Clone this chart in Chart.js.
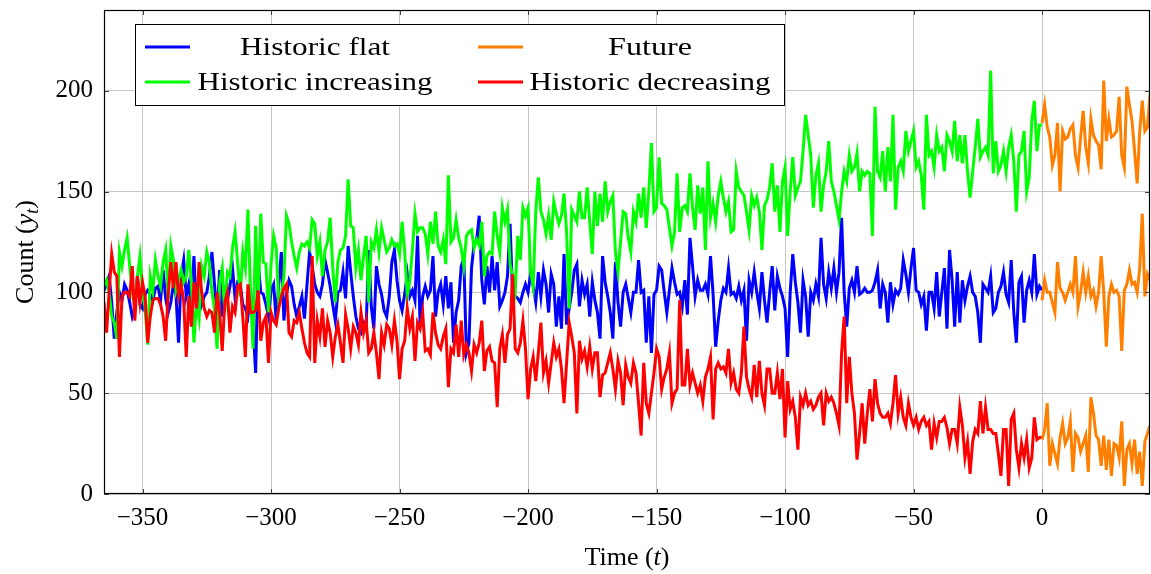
<!DOCTYPE html>
<html>
<head>
<meta charset="utf-8">
<script src="https://cdn.jsdelivr.net/npm/chart.js@4.4.1/dist/chart.umd.min.js"></script>
<style>
  html, body { margin: 0; padding: 0; background: #fff; }
  #wrap { width: 1151px; height: 574px; }
</style>
</head>
<body>
<div id="wrap"><canvas id="chart" width="1151" height="574"></canvas></div>
<script>
// historic runs from t = -365 to t = 0, future from t = 0 to t = 42
const HIST_START = -365;
const FUTURE_START = 0;

const historicFlat = [
  101,104,108,95,77,90,100,96,104,101, 95,88,92,108,94,92,99,101,99,96,
  102,103,96,111,97,90,95,104,99,75, 108,116,98,104,93,118,89,111,94,98, 100,
  108,120,104,88,111,88,100,96,103,112, 97,105,104,94,92,88,102,84,60,115,
  100,99,94,88,101,104,86,104,120,86, 99,106,103,94,88,93,98,87,104,120, 113,
  104,100,98,104,116,110,103,94,86,100, 101,110,97,123,110,98,88,82,80,85,
  83,121,93,82,113,104,99,91,88,98, 115,121,106,96,91,99,109,98,101,96, 128,84,
  98,103,98,101,118,88,100,104,94,108, 92,105,75,90,96,113,117,70,75,112,
  124,126,138,106,94,113,100,118,101,115, 93,96,100,108,134,98,98,97,95,100,
  104,100,109,103,95,110,98,111,104,90, 109,104,83,98,82,119,84,92,100,111,
  114,93,106,99,104,88,105,96,90,77, 118,105,98,90,77,115,95,83,100,104, 97,
  90,100,100,116,100,101,75,98,70,99, 101,113,111,100,90,101,112,105,99,100,
  93,106,89,127,113,98,106,101,101,104, 99,118,99,73,86,96,102,100,112,99,
  100,97,103,96,101,76,106,100,110,100, 92,110,96,85,100,113,91,108,102,98,
  92,68,100,119,105,95,80,106,98,78, 100,96,104,98,127,104,97,110,102,112, 100,
  110,137,100,83,102,106,100,113,99,100, 102,100,100,101,105,111,92,104,100,85,
  105,94,101,99,102,116,109,100,112,122, 101,100,94,98,81,100,100,92,110,88,
  100,112,82,121,106,83,110,85,106,96, 103,108,100,98,90,75,104,102,100,108,
  90,92,100,103,110,99,95,116,90,75, 105,108,85,101,106,100,119,99,103,101
];

const historicIncreasing = [
  103,106,100,88,85,77,120,113,121,127, 113,101,93,108,118,101,92,74,108,101,
  116,108,103,115,121,97,123,116,101,106, 111,105,108,121,105,75,95,87,113,108, 120,
  115,100,92,72,105,112,90,110,108,122, 130,115,98,120,112,141,100,72,133,95,
  139,115,114,90,114,128,122,95,98,108, 138,134,125,118,112,120,124,123,125,122, 136,
  134,118,125,108,121,125,137,112,95,115, 121,122,128,156,133,132,112,121,106,118,
  128,95,125,122,131,120,132,126,120,122, 126,123,124,119,135,120,98,106,121,139, 130,132,
  132,129,119,135,124,140,123,120,126,114, 158,125,127,136,127,122,113,128,130,131,
  122,126,123,135,108,118,120,119,140,128, 120,142,135,141,114,108,101,128,116,142,
  138,142,110,103,140,157,140,136,129,138, 126,145,139,134,138,149,130,92,141,138,
  135,150,137,137,152,135,119,150,133,149, 135,155,140,145,148,120,110,125,140,139, 127,
  120,140,135,149,137,152,132,150,174,140, 142,167,144,143,141,132,123,130,159,130,
  142,143,140,159,142,131,153,139,152,121, 165,137,144,135,148,155,147,140,145,130,
  131,160,152,150,148,140,131,148,143,147, 140,121,143,146,152,164,140,153,130,155,
  162,128,150,167,148,152,155,170,188,178, 168,142,158,164,140,153,160,175,155,150, 143,
  136,150,160,155,168,160,162,169,150,160, 158,160,159,128,192,160,157,170,150,172,
  155,188,141,162,165,160,180,170,175,180, 162,165,158,141,188,168,170,162,178,170,
  172,160,178,175,170,185,165,178,164,178, 160,147,160,172,186,167,170,172,168,210,
  159,175,160,163,170,160,172,178,165,140, 168,170,180,150,157,185,195,170,183,183
];

const historicDecreasing = [
  95,80,100,119,110,108,68,98,100,100, 98,113,86,108,95,105,98,75,88,96,
  97,97,94,88,76,100,115,102,115,98, 104,96,68,98,83,105,92,115,100,92, 88,
  91,90,80,100,90,71,95,100,80,93, 90,103,104,88,68,104,90,90,91,101,
  76,85,88,65,90,86,84,92,98,102, 104,80,78,86,85,90,82,75,70,68, 118,
  65,86,78,92,73,86,80,68,78,84, 75,65,89,82,72,83,80,74,90,80,
  86,70,72,80,70,57,80,74,84,82, 74,86,76,57,72,76,92,82,88,66, 85,82,
  90,71,72,69,90,80,74,72,78,82, 53,72,70,84,68,86,69,74,70,61,
  74,70,75,86,61,71,73,66,65,43, 72,79,65,79,82,109,72,70,75,86,
  72,47,62,68,56,70,85,60,66,55, 65,75,68,72,62,45,65,85,78,70,
  40,76,67,71,63,73,62,70,70,48, 59,60,65,70,62,52,66,60,44,64, 58,
  55,65,60,45,29,65,45,40,50,60, 72,68,52,58,62,70,45,50,52,96,
  54,54,72,54,60,55,50,54,46,58, 62,68,37,62,65,62,63,60,72,55,
  60,52,50,60,83,58,52,48,64,48, 66,50,44,62,62,50,50,60,47,62,
  28,56,42,46,38,22,48,44,50,44, 46,42,44,48,50,34,50,46,48,45, 40,
  34,70,88,45,68,50,40,17,30,45, 25,40,52,36,57,45,40,38,38,40,
  35,45,59,40,48,38,34,45,38,34, 38,32,36,38,34,36,22,35,28,36,
  36,38,33,25,32,32,25,43,34,18, 26,10,26,32,30,46,30,43,32,32,
  30,30,20,9,32,32,4,37,40,22, 13,25,18,27,13,18,38,27,28,28
];

const futureFlat = [
  96,106,100,100,95,90,115,102,100,96, 100,104,100,118,93,100,110,100,108,98,
  101,93,100,118,100,73,98,104,100,101, 98,71,101,104,111,104,105,100,112,139,
  98,109,106
];
const futureIncreasing = [
  184,193,182,177,163,168,184,150,180,176, 177,181,183,168,162,177,190,172,164,186,
  178,175,173,161,205,175,186,177,178,180, 197,168,162,202,193,185,170,154,180,195,
  180,182,198
];
const futureDecreasing = [
  27,32,45,14,25,20,15,28,35,25, 28,36,11,30,28,21,25,29,11,48,
  40,29,27,14,29,12,27,9,25,24, 18,36,4,22,25,15,27,10,21,4,
  26,30,34
];

const xTicks = [-350, -300, -250, -200, -150, -100, -50, 0];
const yTicks = [0, 50, 100, 150, 200];

const FONT = '"Liberation Serif", "DejaVu Serif", serif';
const BLUE = '#0000ff', GREEN = '#00ff00', RED = '#ff0000', ORANGE = '#ff8000';

function toPoints(values, start) {
  return values.map((v, i) => ({ x: start + i, y: v }));
}

function line(label, values, start, color, order) {
  return {
    label: label,
    data: toPoints(values, start),
    borderColor: color,
    backgroundColor: color,
    borderWidth: 3,
    pointRadius: 0,
    tension: 0,
    fill: false,
    order: order
  };
}

function fmt(v) {
  return v < 0 ? '\u2212' + Math.abs(v) : String(v);
}

// frame, inner tick marks, legend box and axis titles
const decorations = {
  id: 'decorations',
  afterDatasetsDraw(chart) {
    const ctx = chart.ctx;
    const a = chart.chartArea;
    const xs = chart.scales.x, ys = chart.scales.y;
    ctx.save();

    ctx.strokeStyle = '#404040';
    ctx.lineWidth = 1;
    xTicks.forEach(t => {
      const px = Math.round(xs.getPixelForValue(t)) + 0.5;
      ctx.beginPath();
      ctx.moveTo(px, a.bottom); ctx.lineTo(px, a.bottom - 5);
      ctx.moveTo(px, a.top); ctx.lineTo(px, a.top + 5);
      ctx.stroke();
    });
    yTicks.forEach(t => {
      const py = Math.round(ys.getPixelForValue(t)) + 0.5;
      ctx.beginPath();
      ctx.moveTo(a.left, py); ctx.lineTo(a.left + 5, py);
      ctx.moveTo(a.right, py); ctx.lineTo(a.right - 5, py);
      ctx.stroke();
    });

    ctx.strokeStyle = '#000';
    ctx.lineWidth = 1.2;
    ctx.strokeRect(a.left + 0.5, a.top + 0.5, a.right - a.left - 1, a.bottom - a.top - 1);

    // legend
    const bx = 135, by = 24, bw = 649, bh = 81;
    ctx.fillStyle = '#fff';
    ctx.fillRect(bx, by, bw, bh);
    ctx.strokeStyle = '#000';
    ctx.lineWidth = 1;
    ctx.strokeRect(bx + 0.5, by + 0.5, bw, bh);

    const entries = [
      { text: 'Historic flat', color: BLUE, lx: 145, cx: 315, y: 47, w: 150 },
      { text: 'Future', color: ORANGE, lx: 478, cx: 650, y: 47, w: 84 },
      { text: 'Historic increasing', color: GREEN, lx: 145, cx: 315, y: 82, w: 235 },
      { text: 'Historic decreasing', color: RED, lx: 478, cx: 650, y: 82, w: 241 }
    ];
    ctx.font = '26px ' + FONT;
    ctx.textBaseline = 'middle';
    ctx.textAlign = 'center';
    entries.forEach(e => {
      ctx.strokeStyle = e.color;
      ctx.lineWidth = 3;
      ctx.beginPath();
      ctx.moveTo(e.lx, e.y); ctx.lineTo(e.lx + 45, e.y);
      ctx.stroke();
      const m = ctx.measureText(e.text).width;
      ctx.save();
      ctx.translate(e.cx, e.y + 1);
      ctx.scale(e.w / m, 1);
      ctx.fillStyle = '#000';
      ctx.fillText(e.text, 0, 0);
      ctx.restore();
    });

    // axis titles with italic symbols
    drawParts(ctx, [['Time (', false], ['t', true], [')', false]], (a.left + a.right) / 2, 557, 0);
    drawParts(ctx, [['Count (', false], ['y', true], ['t', true, true], [')', false]], 25, (a.top + a.bottom) / 2, -Math.PI / 2);

    ctx.restore();
  }
};

function drawParts(ctx, parts, cx, cy, rot) {
  const size = 26;
  const widths = parts.map(p => {
    ctx.font = (p[1] ? 'italic ' : '') + (p[2] ? 18 : size) + 'px ' + FONT;
    return ctx.measureText(p[0]).width;
  });
  const total = widths.reduce((s, w) => s + w, 0);
  ctx.save();
  ctx.translate(cx, cy);
  ctx.rotate(rot);
  ctx.fillStyle = '#000';
  ctx.textAlign = 'left';
  ctx.textBaseline = 'alphabetic';
  let x = -total / 2;
  parts.forEach((p, i) => {
    ctx.font = (p[1] ? 'italic ' : '') + (p[2] ? 18 : size) + 'px ' + FONT;
    ctx.fillText(p[0], x, p[2] ? 13 : 8);
    x += widths[i];
  });
  ctx.restore();
}

new Chart(document.getElementById('chart'), {
  type: 'line',
  data: {
    datasets: [
      line('Historic flat', historicFlat, HIST_START, BLUE, 6),
      line('Historic increasing', historicIncreasing, HIST_START, GREEN, 5),
      line('Historic decreasing', historicDecreasing, HIST_START, RED, 4),
      line('Future', futureFlat, FUTURE_START, ORANGE, 3),
      line('Future', futureIncreasing, FUTURE_START, ORANGE, 2),
      line('Future', futureDecreasing, FUTURE_START, ORANGE, 1)
    ]
  },
  options: {
    responsive: false,
    animation: false,
    devicePixelRatio: 1,
    layout: { padding: { top: 10, right: 1, left: 0, bottom: 0 } },
    plugins: {
      legend: { display: false },
      tooltip: { enabled: false }
    },
    scales: {
      x: {
        type: 'linear',
        min: -365,
        max: 42,
        afterBuildTicks: s => { s.ticks = xTicks.map(v => ({ value: v })); },
        afterFit: s => { s.height = 80; s.paddingLeft = 0; s.paddingRight = 0; },
        border: { display: false },
        grid: { color: '#c6c6c6', lineWidth: 1, drawTicks: false },
        ticks: {
          color: '#000',
          padding: 9,
          maxRotation: 0,
          font: { family: FONT, size: 25 },
          callback: v => fmt(v)
        }
      },
      y: {
        type: 'linear',
        min: 0,
        max: 240,
        afterBuildTicks: s => { s.ticks = yTicks.map(v => ({ value: v })); },
        afterFit: s => { s.width = 104; s.paddingTop = 0; s.paddingBottom = 0; },
        border: { display: false },
        grid: { color: '#c6c6c6', lineWidth: 1, drawTicks: false },
        ticks: {
          color: '#000',
          padding: 11,
          font: { family: FONT, size: 25 },
          callback: v => fmt(v)
        }
      }
    }
  },
  plugins: [decorations]
});
</script>
</body>
</html>
